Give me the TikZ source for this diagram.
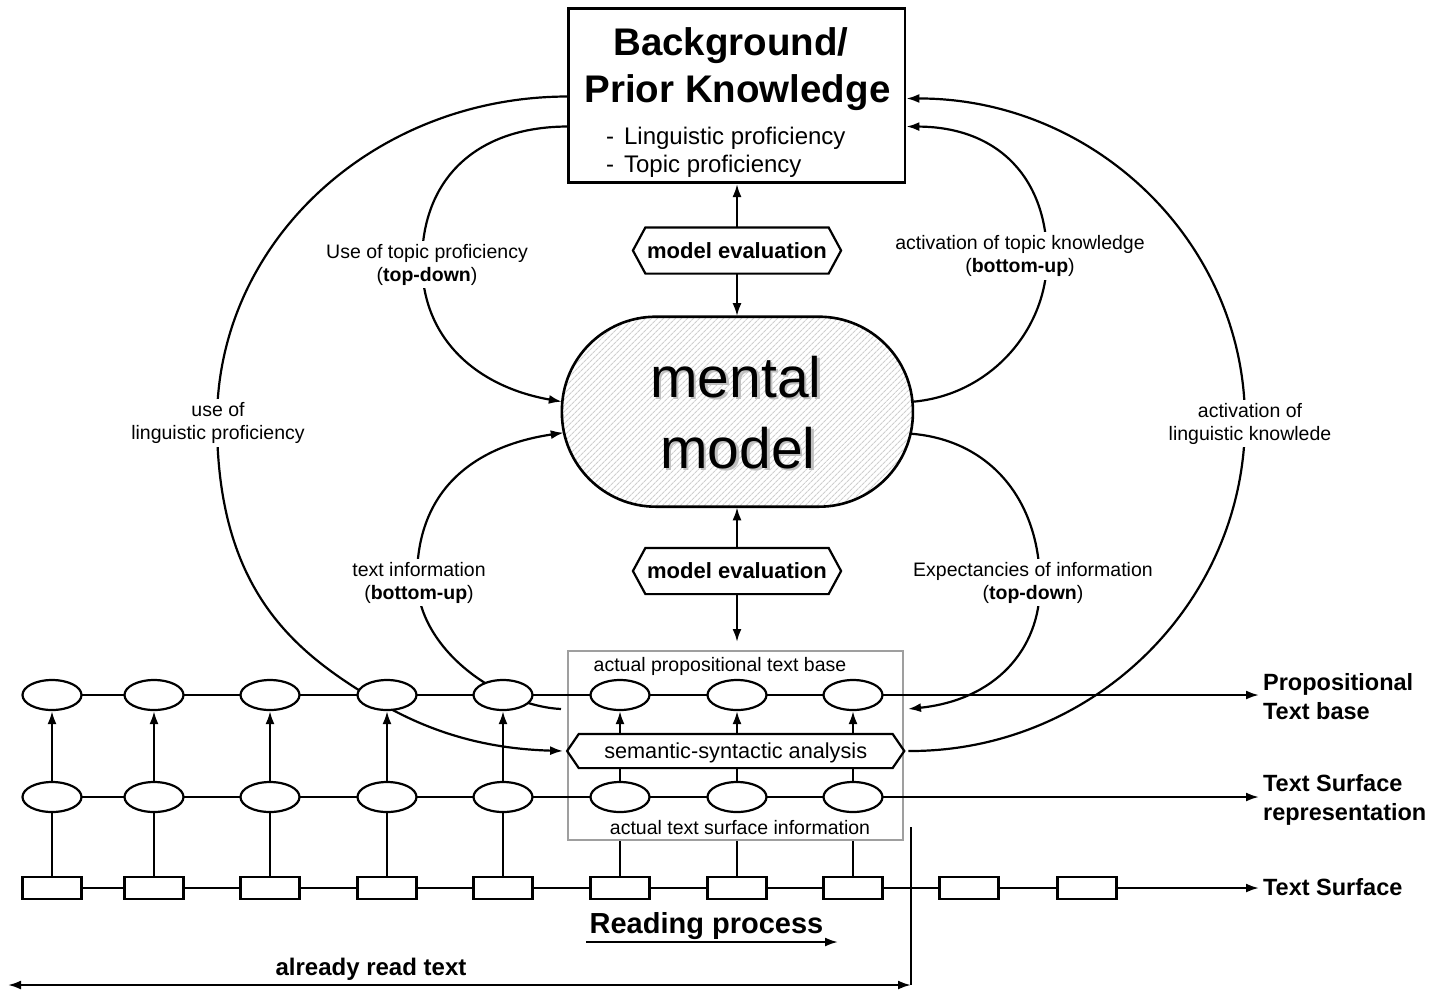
\documentclass[tikz,border=0pt]{standalone}
\usepackage{fontspec}
\setmainfont{Liberation Sans}
\usetikzlibrary{arrows.meta,patterns.meta,calc,shapes.geometric}
\pgfdeclarelayer{back}
\pgfsetlayers{back,main}
\newcommand\fsz[2]{\fontsize{#1}{#2}\selectfont}
% hexagonal outline around a named node, #2 = length of the pointed ends
\newcommand\hexoutline[2]{%
  \draw[line width=2.2pt] (#1.west) -- ($(#1.north west)+(#2,0)$) -- ($(#1.north east)+(-#2,0)$)
    -- (#1.east) -- ($(#1.south east)+(-#2,0)$) -- ($(#1.south west)+(#2,0)$) -- cycle;}
\begin{document}
\begin{tikzpicture}[x=1pt, y=-1pt,
  every path/.style={line width=2.2pt},
  >={Latex[length=13pt,width=9pt]},
  ell/.style={draw, ellipse, fill=white, line width=2.2pt, minimum width=59pt, minimum height=30pt, inner sep=0pt},
  rec/.style={draw, rectangle, fill=white, line width=2.2pt, minimum width=59pt, minimum height=22.5pt, inner sep=0pt},
  lbl/.style={fill=white, align=center, inner sep=3pt, font=\fsz{19.5}{23}},
  side/.style={anchor=base west, inner sep=0pt, font=\fsz{23.5}{28}\bfseries},
  evalbox/.style={minimum width=206pt, minimum height=44pt, inner sep=0pt, text depth=0pt, font=\fsz{22}{26}\bfseries},
  plain/.style={anchor=base, inner sep=0pt}
]
\useasboundingbox (0,0) rectangle (1437,989);

% ---------- knowledge box ----------
\node[draw, line width=2.6pt, minimum width=336.7pt, minimum height=174.4pt, inner sep=0pt] (bk) at (736.7,95.5) {};
\node[plain, font=\fsz{38.5}{44}\bfseries] (bk1) at (731,55.5) {Background/};
\node[plain, font=\fsz{38.5}{44}\bfseries] (bk2) at (737.5,102) {Prior Knowledge};
\node[anchor=base west, inner sep=0pt, font=\fsz{24}{28}] (bk3) at (605,144) {-\hspace{10pt}Linguistic proficiency};
\node[anchor=base west, inner sep=0pt, font=\fsz{24}{28}] (bk4) at (605,172) {-\hspace{10pt}Topic proficiency};

% ---------- mental model ----------
\node[draw, line width=2.6pt, rounded corners=94pt, minimum width=351pt, minimum height=190pt, inner sep=0pt,
      pattern={Lines[angle=45,distance=4pt,line width=1.1pt]}, pattern color=gray!38] (mm) at (737.4,411.7) {};
\node[plain, font=\fsz{57}{71}, text=gray!50] (mms1) at (738.5,399.5) {mental};
\node[plain, font=\fsz{57}{71}, text=gray!50] (mms2) at (740.5,470.5) {model};
\node[plain, font=\fsz{57}{71}] (mm1) at (736,397) {mental};
\node[plain, font=\fsz{57}{71}] (mm2) at (738,468) {model};

% ---------- model evaluation ----------
\node[evalbox] (me1) at (737,250.5) {model evaluation};
\hexoutline{me1}{12.5}
\node[evalbox] (me2) at (737,571) {model evaluation};
\hexoutline{me2}{12.5}

% ---------- actual window ----------
\begin{pgfonlayer}{back}
\node[draw=gray!75, line width=2pt, minimum width=335pt, minimum height=189pt, inner sep=0pt] (gb) at (735.5,745.5) {};
\end{pgfonlayer}
\node[plain, font=\fsz{19.5}{23}] (gbt) at (720,671.5) {actual propositional text base};
\node[plain, font=\fsz{19.5}{23}] (gbb) at (740,834) {actual text surface information};
\node[minimum width=335pt, minimum height=32pt, inner sep=0pt, text depth=0pt, font=\fsz{21.7}{26}] (sem) at (735.7,751) {semantic-syntactic analysis};
\hexoutline{sem}{11.7}

% ---------- text rows ----------
\foreach \i/\x in {1/52,2/154,3/270,4/387,5/503,6/620,7/737,8/853} {
  \node[ell] (t\i) at (\x,695) {};
  \node[ell] (m\i) at (\x,797) {};
}
\foreach \i/\x in {1/52,2/154,3/270,4/387,5/503,6/620,7/737,8/853,9/969,10/1087}
  \node[rec] (r\i) at (\x,888) {};

\node[side] (lp1) at (1262,690) {Propositional};
\node[side] (lp2) at (1262,719) {Text base};
\node[side] (ls1) at (1262,791) {Text Surface};
\node[side] (ls2) at (1262,820) {representation};
\node[side] (lt) at (1262,895) {Text Surface};
\coordinate (ep1) at (1259,695);
\coordinate (ep2) at (1259,797);
\coordinate (ep3) at (1259,888);

% ---------- reading position ----------
\coordinate (nowtop) at (911,827);
\coordinate (nowbot) at (911,985);
\coordinate (readstart) at (8,985);
\node[plain, font=\fsz{24}{28}\bfseries] (art) at (371,975) {already read text};
\node[plain, font=\fsz{29}{34}\bfseries] (rp) at (706.5,933) {Reading process};
\coordinate (rpa) at (586,942);
\coordinate (rpb) at (838,942);

% ---------- curve labels ----------
\node[lbl] (lab1) at (427,264.5) {Use of topic proficiency\\(\textbf{top-down})};
\node[lbl] (lab2) at (419,582.5) {text information\\(\textbf{bottom-up})};
\node[lbl] (lab3) at (218,423) {use of\\linguistic proficiency};
\node[lbl] (lab4) at (1020,256) {activation of topic knowledge\\(\textbf{bottom-up})};
\node[lbl] (lab5) at (1033,582.5) {Expectancies of information\\(\textbf{top-down})};
\node[lbl] (lab6) at (1250,423.5) {activation of\\linguistic knowlede};

% ---------- connectors ----------
\begin{pgfonlayer}{back}
\begin{scope}[line width=2.2pt]
  % evaluation arrows
  \draw[->] (me1.north) -- (me1.north |- bk.south);
  \draw[->] (me1.south) -- (me1.south |- mm.north);
  \draw[->] (me2.north) -- (me2.north |- mm.south);
  \draw[->] (me2.south) -- ($(me2.south |- gb.north)+(0,-8)$);

  % rows
  \draw[->] (t1.center) -- (ep1);
  \draw[->] (m1.center) -- (ep2);
  \draw[->] (r1.center) -- (ep3);
  \foreach \i in {1,...,5} {
    \draw[->] (m\i) -- (t\i);
    \draw (r\i) -- (m\i);
  }
  \foreach \i in {6,7,8} {
    \draw (m\i) -- (m\i |- sem.south);
    \draw[->] (t\i |- sem.north) -- (t\i);
    \draw (r\i) -- (r\i |- gb.south);
  }

  % reading position
  \draw (nowtop) -- (nowbot);
  \draw[<->] (readstart) -- (nowbot);
  \draw[->] (rpa) -- (rpb);

  % curve end points
  \coordinate (mw1) at ($(mm.west)+(0.5,-10)$);
  \coordinate (mw2) at ($(mm.west)+(2.4,21)$);
  \coordinate (me1p) at ($(mm.east)+(-0.5,-10)$);
  \coordinate (me2p) at ($(mm.east)+(-2.4,22)$);
  \coordinate (txin) at ($(gb.west)+(-6,-36.5)$);
  \coordinate (expo) at ($(gb.east)+(4,-36.5)$);

  % use of linguistic proficiency
  \draw[->] ($(bk.west)+(0,1)$) .. controls (373,97) and (217,242) .. (217,421)
            .. controls (217,591) and (295,652) .. (375,700)
            .. controls (435,736) and (493,749) .. ($(sem.west)+(-4,0)$);
  % use of topic proficiency
  \draw[->] ($(bk.west)+(0,31)$) .. controls (475,127) and (422,180) .. (422,262)
            .. controls (422,340) and (478,387) .. (mw1);
  % text information
  \draw[->] (txin) .. controls (500,706) and (417,650) .. (417,578)
            .. controls (417,485) and (480,445) .. (mw2);
  % activation of topic knowledge
  \draw[->] (me1p) .. controls (990,395) and (1047,330) .. (1047,258)
            .. controls (1047,180) and (1000,127) .. ($(bk.east)+(0,31)$);
  % expectancies of information
  \draw[->] (me2p) .. controls (990,440) and (1040,500) .. (1040,585)
            .. controls (1040,650) and (995,700) .. (expo);
  % activation of linguistic knowledge
  \draw[->] ($(sem.east)+(4,0)$) .. controls (1093,752) and (1245,603) .. (1245,421)
            .. controls (1245,242) and (1094,98) .. ($(bk.east)+(0,3)$);
\end{scope}
\end{pgfonlayer}
\end{tikzpicture}
\end{document}
